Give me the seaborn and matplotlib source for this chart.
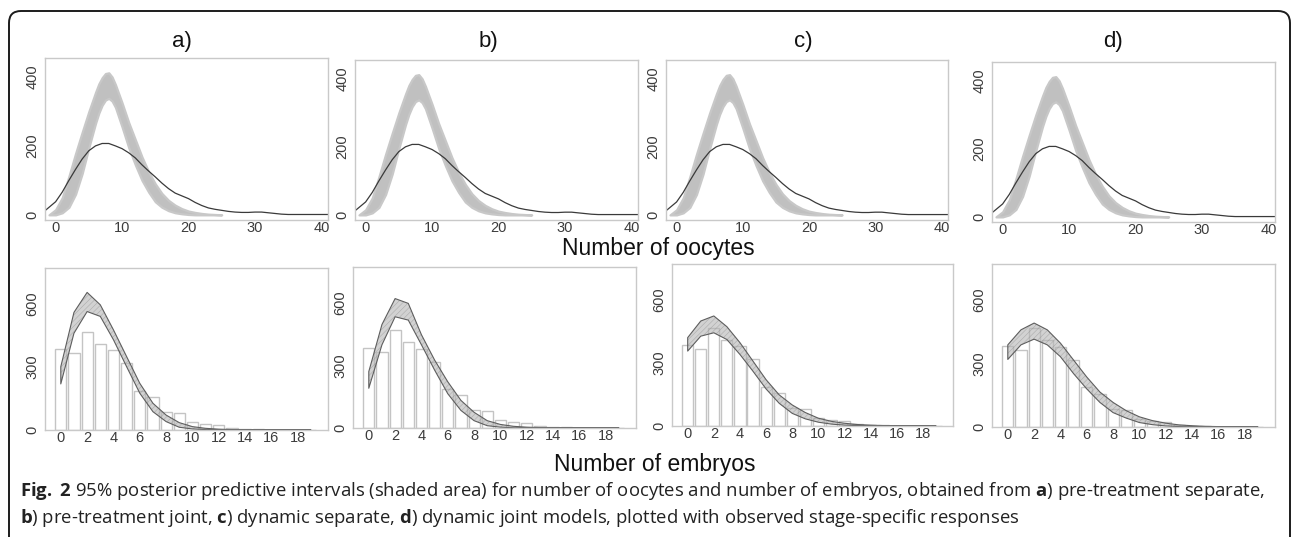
import numpy as np
import pandas as pd
import seaborn as sns
import matplotlib.pyplot as plt
from matplotlib.patches import FancyBboxPatch
from matplotlib.transforms import IdentityTransform

# panel titles
PANELS = ['a)', 'b)', 'c)', 'd)']

# observed number of oocytes (smoothed density, scaled counts)
oocyte_x = [-1.6, 0, 1, 2, 3, 4, 5, 6, 7, 8, 9, 10, 11, 12, 13, 14, 15, 16, 17, 18, 19, 20,
            21, 22, 23, 24, 25, 26, 27, 28, 29, 30, 31, 32, 33, 34, 35, 36, 38, 41]
oocyte_obs = [12, 38, 66, 100, 132, 162, 186, 200, 207, 207, 200, 192, 180, 165, 145, 127, 110,
              92, 76, 63, 55, 47, 36, 27, 20, 16, 13, 10, 8, 7, 7, 8, 8, 6, 4, 2, 1, 1, 1, 1]

# posterior predictive band for oocytes (envelope of simulated curves)
band_x = [-1, 0, 1, 2, 3, 4, 5, 6, 6.5, 7, 7.5, 8, 8.5, 9, 10, 11, 12, 13, 14, 15, 16, 17,
          18, 19, 20, 21, 22, 23, 24, 25]
band_hi = [0, 15, 50, 112, 178, 240, 300, 355, 380, 398, 410, 412, 400, 378, 325, 268, 218,
           168, 125, 90, 62, 42, 28, 18, 11, 7, 4, 2, 1, 0]
band_lo = [0, 0, 6, 22, 60, 120, 195, 265, 295, 318, 333, 338, 330, 312, 255, 195, 145, 100,
           66, 38, 22, 12, 6, 3, 1, 0, 0, 0, 0, 0]

# observed number of embryos
embryos = list(range(20))
embryo_obs = [385, 365, 468, 410, 378, 318, 187, 156, 87, 79, 37, 29, 22, 10, 4, 3, 2, 1, 1, 1]

# 95% posterior predictive intervals for embryos, one pair per model
emb_lo = {
    'a)': [219, 460, 563, 540, 429, 301, 175, 87, 40, 13, 5, 2, 1, 0, 0, 0, 0, 0, 0, 0],
    'b)': [190, 398, 532, 516, 398, 277, 164, 84, 35, 11, 4, 1, 0, 0, 0, 0, 0, 0, 0, 0],
    'c)': [356, 427, 443, 411, 340, 260, 176, 108, 60, 34, 18, 9, 4, 2, 1, 0, 0, 0, 0, 0],
    'd)': [319, 388, 415, 388, 332, 252, 180, 116, 68, 42, 21, 11, 5, 2, 1, 0, 0, 0, 0, 0],
}
emb_hi = {
    'a)': [301, 559, 654, 595, 476, 349, 222, 127, 71, 35, 16, 8, 4, 2, 1, 1, 1, 1, 1, 1],
    'b)': [270, 495, 619, 596, 446, 325, 221, 132, 75, 35, 17, 8, 4, 2, 1, 1, 1, 1, 1, 1],
    'c)': [420, 499, 523, 472, 396, 308, 220, 148, 100, 64, 37, 22, 13, 7, 4, 2, 1, 1, 1, 1],
    'd)': [388, 459, 491, 459, 396, 316, 236, 165, 116, 77, 48, 30, 18, 10, 6, 3, 2, 1, 1, 1],
}

W, H = 1292, 537
TOP_BOXES = [(45, 328, 58, 220), (355, 638, 60, 220), (666, 948, 60, 220), (992, 1275, 62, 222)]
BOT_BOXES = [(45, 328, 268, 430), (353, 636, 267, 428), (672, 953, 264, 426), (992, 1275, 264, 427)]
TITLE_X = [182, 488, 803, 1113]

sns.set_style('white')
plt.rcParams['font.family'] = ['Liberation Sans', 'DejaVu Sans']
plt.rcParams['hatch.linewidth'] = 0.35

fig = plt.figure(figsize=(W / 100, H / 100), dpi=100)


def add_box(l, r, t, b):
    return fig.add_axes([l / W, 1 - b / H, (r - l) / W, (b - t) / H])


def style_axes(ax):
    for s in ax.spines.values():
        s.set_color('#c9c9c9')
        s.set_linewidth(1.0)
    ax.tick_params(length=0, labelsize=10.5, labelcolor='#3c3c3c', pad=0.5)
    ax.tick_params(axis='y', labelrotation=90, pad=4)
    for lab in ax.get_yticklabels():
        lab.set_va('center')


oocyte_df = pd.DataFrame({'x': oocyte_x, 'y': oocyte_obs})

for i, name in enumerate(PANELS):
    # top row: oocytes
    ax = add_box(*TOP_BOXES[i])
    ax.fill_between(band_x, band_lo, band_hi, color='#c0c0c0', lw=1.6, ec='#c8c8c8')
    sns.lineplot(data=oocyte_df, x='x', y='y', ax=ax, color='#3a3a3a', lw=0.9)
    ax.set_xlim(-1.6, 41)
    ax.set_ylim(-15, 455)
    ax.set_xticks([0, 10, 20, 30, 40])
    ax.set_yticks([0, 200, 400])
    ax.set_xlabel('')
    ax.set_ylabel('')
    style_axes(ax)
    fig.text(TITLE_X[i] / W, 1 - 42 / H, name, ha='center', va='center', fontsize=16, color='#111111')

    # bottom row: embryos
    ax = add_box(*BOT_BOXES[i])
    emb_df = pd.DataFrame({'n': embryos, 'count': embryo_obs})
    sns.barplot(data=emb_df, x='n', y='count', ax=ax, native_scale=True, width=0.85,
                color='white', edgecolor='#c4c4c4', linewidth=1.0, saturation=1)
    ax.fill_between(embryos, emb_lo[name], emb_hi[name], facecolor='#b4b4b4', alpha=0.6,
                    hatch='//////', edgecolor='#8a8a8a', lw=0)
    ax.fill_between(embryos, emb_lo[name], emb_hi[name], facecolor='none',
                    edgecolor='#5e5e5e', lw=0.8)
    ax.set_xlim(-1.2, 20.3)
    ax.set_ylim(0, 770)
    ax.set_xticks(range(0, 19, 2))
    ax.set_xticklabels([str(k) for k in range(0, 19, 2)])
    ax.set_yticks([0, 300, 600])
    ax.set_xlabel('')
    ax.set_ylabel('')
    style_axes(ax)

fig.text(658 / W, 1 - 249 / H, 'Number of oocytes', ha='center', va='center', fontsize=16.5,
         color='#111111')
fig.text(655 / W, 1 - 464 / H, 'Number of embryos', ha='center', va='center', fontsize=16.5,
         color='#111111')

# caption, bold pieces through mathtext
plt.rcParams['mathtext.fontset'] = 'custom'
plt.rcParams['mathtext.rm'] = 'Open Sans'
plt.rcParams['mathtext.bf'] = 'Open Sans:bold'
cap1 = (r'$\mathbf{Fig.}$ $\mathbf{2}$ 95% posterior predictive intervals (shaded area) for number of oocytes '
        r'and number of embryos, obtained from $\mathbf{a}$) pre-treatment separate,')
cap2 = (r'$\mathbf{b}$) pre-treatment joint, $\mathbf{c}$) dynamic separate, '
        r'$\mathbf{d}$) dynamic joint models, plotted with observed stage-specific responses')
fig.text(20 / W, 1 - 496 / H, cap1, ha='left', va='baseline', fontsize=13.3, color='#222222',
         family='Open Sans')
fig.text(20 / W, 1 - 523 / H, cap2, ha='left', va='baseline', fontsize=13.3, color='#222222',
         family='Open Sans')

frame = FancyBboxPatch((9, -30), 1281, 556, boxstyle='round,pad=0,rounding_size=12',
                       transform=IdentityTransform(), fill=False, lw=1.4, ec='#1c1c1c')
fig.add_artist(frame)

fig.savefig('out.png', dpi=100)
